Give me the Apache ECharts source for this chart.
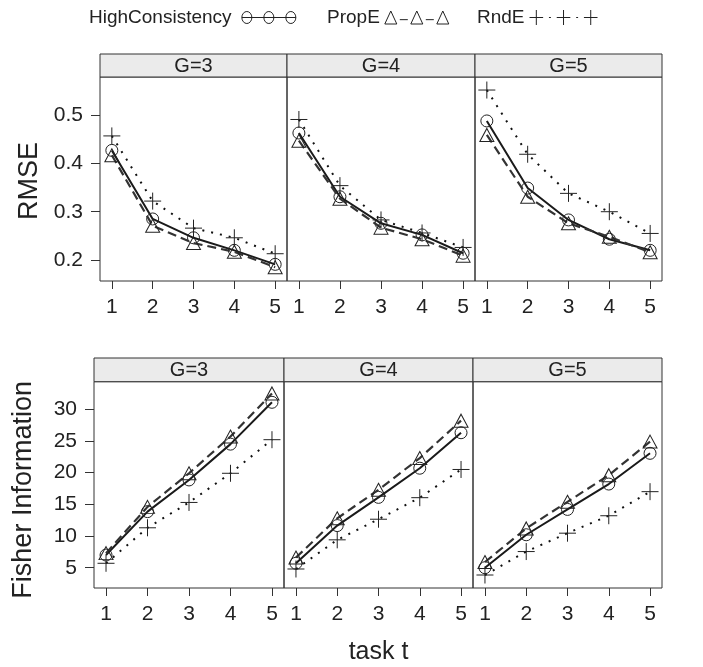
<!DOCTYPE html>
<html><head><meta charset="utf-8">
<script src="https://cdn.jsdelivr.net/npm/echarts@6/dist/echarts.min.js"></script>
<style>html,body{margin:0;padding:0;background:#fff}#c{width:703px;height:667px}</style>
</head><body><div id="c"></div>
<script>
// ---------- data ----------
const tasks = [1, 2, 3, 4, 5];
const groups = ['G=3', 'G=4', 'G=5'];
const methodNames = ['HighConsistency', 'PropE', 'RndE'];
const rmseTicks = [0.2, 0.3, 0.4, 0.5];
const fisherTicks = [5, 10, 15, 20, 25, 30];

const rmseHighG3 = [0.427, 0.285, 0.246, 0.220, 0.191];
const rmsePropG3 = [0.417, 0.271, 0.235, 0.217, 0.185];
const rmseRndG3  = [0.457, 0.322, 0.266, 0.246, 0.213];
const rmseHighG4 = [0.463, 0.331, 0.276, 0.252, 0.214];
const rmsePropG4 = [0.447, 0.327, 0.267, 0.243, 0.209];
const rmseRndG4  = [0.491, 0.354, 0.283, 0.256, 0.226];
const rmseHighG5 = [0.488, 0.349, 0.283, 0.243, 0.220];
const rmsePropG5 = [0.459, 0.331, 0.276, 0.248, 0.216];
const rmseRndG5  = [0.552, 0.419, 0.338, 0.300, 0.255];

const fisherHighG3 = [7.0, 13.85, 18.85, 24.5, 31.1];
const fisherPropG3 = [7.3, 14.6, 19.9, 25.7, 32.5];
const fisherRndG3  = [5.7, 11.3, 15.3, 19.9, 25.2];
const fisherHighG4 = [5.7, 11.65, 16.1, 20.7, 26.3];
const fisherPropG4 = [6.6, 12.8, 17.3, 22.3, 28.2];
const fisherRndG4  = [4.8, 9.4, 12.65, 16.05, 20.5];
const fisherHighG5 = [5.0, 10.2, 14.2, 18.2, 23.05];
const fisherPropG5 = [5.9, 11.2, 15.4, 19.6, 24.9];
const fisherRndG5  = [3.85, 7.55, 10.45, 13.2, 17.0];

const rmseData = [
  [rmseHighG3, rmsePropG3, rmseRndG3],
  [rmseHighG4, rmsePropG4, rmseRndG4],
  [rmseHighG5, rmsePropG5, rmseRndG5]
];
const fisherData = [
  [fisherHighG3, fisherPropG3, fisherRndG3],
  [fisherHighG4, fisherPropG4, fisherRndG4],
  [fisherHighG5, fisherPropG5, fisherRndG5]
];

// ---------- layout / style ----------
const FONT = '"Liberation Sans", Arial, Helvetica, sans-serif';
const rows = [
  { xs: [[100, 287], [287, 475], [475, 662]], top: 77, bottom: 281, stripTop: 54,
    yMin: 0.1565, yMax: 0.579, ticks: rmseTicks, data: rmseData, title: 'RMSE', namePad: [0, 4, 0, 0] },
  { xs: [[94, 284], [284, 473], [473, 662]], top: 381.7, bottom: 588, stripTop: 358,
    yMin: 1.8, yMax: 34.35, ticks: fisherTicks, data: fisherData, title: 'Fisher Information', namePad: [0, 10, 0, 0] }
];
const X_MIN = 0.71, X_MAX = 5.29;

const symbols = ['circle', 'triangle', 'path://M0,8L16,8M8,0L8,16'];
const symbolSizes = [12, [14, 13], 17];
const lineStyles = [
  { color: '#1a1a1a', width: 2, type: 'solid' },
  { color: '#333', width: 2.2, type: [9, 5] },
  { color: '#111', width: 2, type: [2, 7] }
];

const grids = [], xAxes = [], yAxes = [], series = [], graphics = [];
rows.forEach((row, r) => {
  row.xs.forEach((xr, c) => {
    const gi = grids.length;
    grids.push({ left: xr[0], top: row.top, width: xr[1] - xr[0], height: row.bottom - row.top,
      show: true, borderColor: '#333', borderWidth: 1, backgroundColor: 'transparent', containLabel: false });
    const isTitleAxis = (r === 1 && c === 1);
    xAxes.push({
      type: 'value', gridIndex: gi, min: X_MIN, max: X_MAX,
      axisLine: { show: false }, splitLine: { show: false },
      axisTick: { show: true, customValues: tasks, length: 8, lineStyle: { color: '#333', width: 1 } },
      axisLabel: { customValues: tasks, margin: 16, fontSize: 21, color: '#222', fontFamily: FONT },
      name: isTitleAxis ? 'task t' : '', nameLocation: 'middle', nameGap: 52,
      nameTextStyle: { fontSize: 25, color: '#222', fontFamily: FONT }
    });
    yAxes.push({
      type: 'value', gridIndex: gi, min: row.yMin, max: row.yMax,
      axisLine: { show: false }, splitLine: { show: false },
      axisTick: { show: c === 0, customValues: row.ticks, length: 9, lineStyle: { color: '#333', width: 1 } },
      axisLabel: { show: c === 0, customValues: row.ticks, margin: 17, fontSize: 21, color: '#222', fontFamily: FONT },
      name: c === 0 ? row.title : '', nameLocation: 'middle', nameGap: 57, nameRotate: 90,
      nameTextStyle: { fontSize: 27, color: '#222', fontFamily: FONT, padding: row.namePad }
    });
    row.data[c].forEach((vals, m) => {
      series.push({
        type: 'line', name: methodNames[m], xAxisIndex: gi, yAxisIndex: gi,
        data: tasks.map((t, i) => [t, vals[i]]),
        symbol: symbols[m], symbolSize: symbolSizes[m], showSymbol: true,
        color: '#000',
        lineStyle: lineStyles[m],
        itemStyle: { color: 'rgba(0,0,0,0)', borderColor: '#222', borderWidth: 1 },
        emphasis: { disabled: true }, silent: true, animation: false, z: 3 + m
      });
    });
    // strip
    graphics.push({
      type: 'rect', shape: { x: xr[0], y: row.stripTop, width: xr[1] - xr[0], height: row.top - row.stripTop },
      style: { fill: '#ebebeb', stroke: '#333', lineWidth: 1 }, silent: true
    });
    graphics.push({
      type: 'text', x: (xr[0] + xr[1]) / 2, y: (row.stripTop + row.top) / 2 + 1,
      style: { text: groups[c], fontSize: 20, fontFamily: FONT, fill: '#222', align: 'center', verticalAlign: 'middle' },
      silent: true
    });
  });
});

const legendIcons = [
  'path://M0,6L54,6M0,6A5,5,0,1,0,10,6A5,5,0,1,0,0,6M22,6A5,5,0,1,0,32,6A5,5,0,1,0,22,6M44,6A5,5,0,1,0,54,6A5,5,0,1,0,44,6',
  'path://M0,12L6,0L12,12ZM26,12L32,0L38,12ZM52,12L58,0L64,12ZM15,8L23,8M41,8L49,8',
  'path://M0,7L14,7M7,0L7,14M28,7L42,7M35,0L35,14M56,7L70,7M63,0L63,14M20,7L22,7M48,7L50,7'
];
const legendSizes = [[54, 12], [64, 13], [68, 15]];
const legendLefts = [89, 327, 477];
const legendSuffix = [' ', '', ''];
const legends = methodNames.map((n, i) => ({
  left: legendLefts[i], top: 8, padding: 0, align: 'right', orient: 'horizontal',
  itemWidth: legendSizes[i][0], itemHeight: legendSizes[i][1], symbolKeepAspect: false,
  selectedMode: false,
  formatter: (name) => name + legendSuffix[i],
  textStyle: { fontSize: 19, fontFamily: FONT, color: '#222' },
  data: [{ name: n, icon: legendIcons[i],
    itemStyle: { color: 'rgba(0,0,0,0)', borderColor: '#222', borderWidth: 1 } }]
}));

const chart = echarts.init(document.getElementById('c'), null, { renderer: 'canvas' });
chart.setOption({
  animation: false,
  backgroundColor: '#fff',
  textStyle: { fontFamily: FONT },
  legend: legends,
  grid: grids, xAxis: xAxes, yAxis: yAxes, series: series,
  graphic: graphics
});
</script></body></html>
